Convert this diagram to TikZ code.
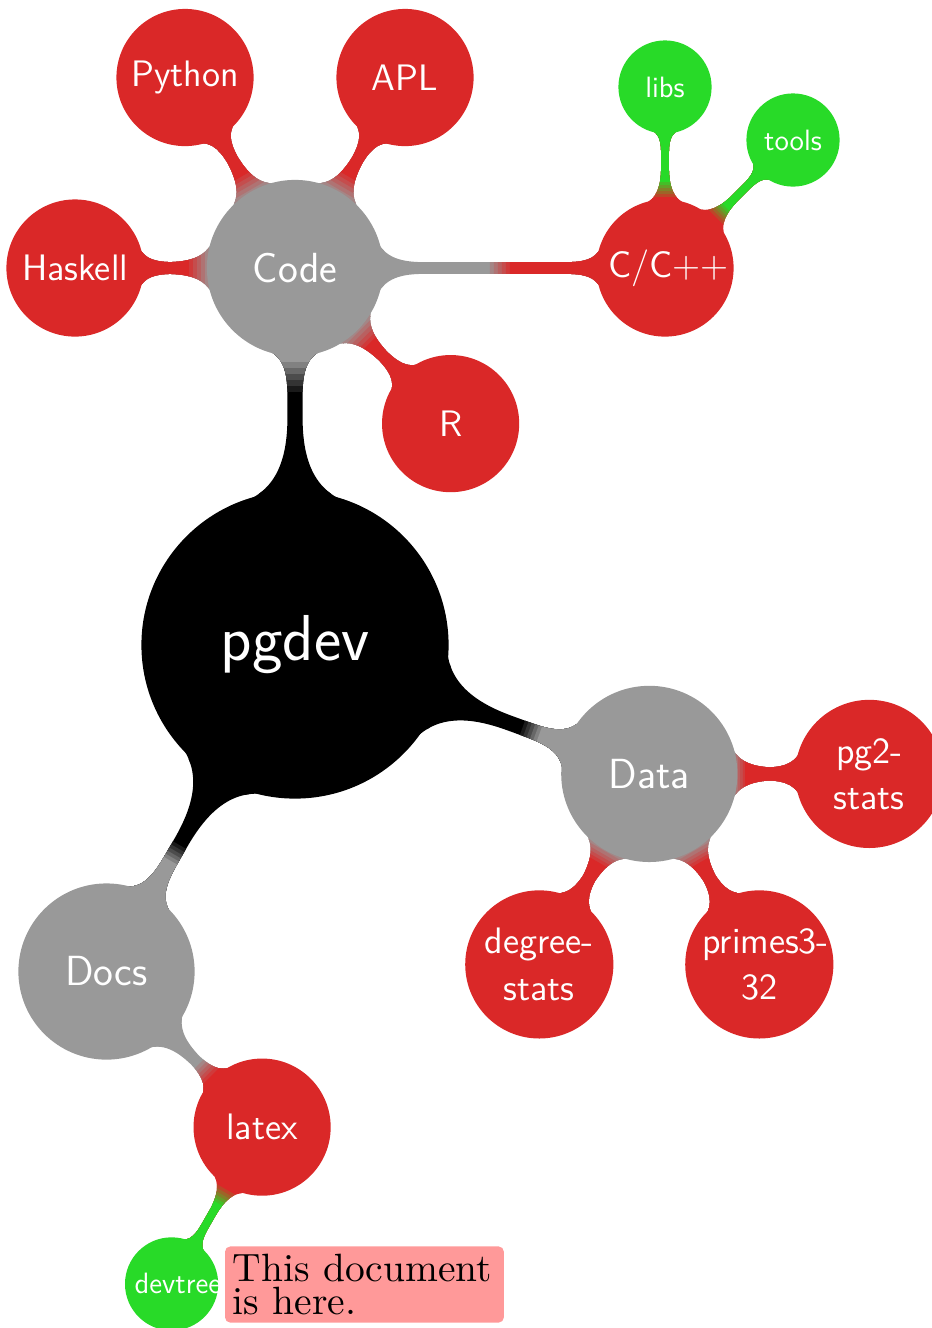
\documentclass[tikz,border=0pt]{standalone}
\usepackage{fontspec}
\newfontfamily\notefont{lmroman10-regular.otf}
\usetikzlibrary{mindmap}
\pgfdeclarelayer{bars}
\pgfsetlayers{bars,main}
\definecolor{cblack}{RGB}{0,0,0}
\definecolor{cgray}{RGB}{153,153,153}
\definecolor{cred}{RGB}{218,40,40}
\definecolor{cgreen}{RGB}{40,218,40}
\definecolor{cpink}{RGB}{255,153,153}
\tikzset{
  lvlroot/.style={concept, concept color=cblack, text=white, inner sep=0pt,
    minimum size=4.032cm, text width=3.18cm, align=center,
    font=\sffamily\fontsize{24.5}{29.4}\selectfont},
  lvlone/.style={concept, concept color=cgray, text=white, inner sep=0pt,
    minimum size=2.295cm, text width=1.99cm, align=center,
    font=\sffamily\fontsize{15.9}{19}\selectfont},
  lvltwo/.style={concept, concept color=cred, text=white, inner sep=0pt,
    minimum size=1.777cm, text width=1.512cm, align=center,
    font=\sffamily\fontsize{13.9}{17.4}\selectfont},
  lvltwobig/.style={lvltwo, minimum size=1.923cm},
  lvlthree/.style={concept, concept color=cgreen, text=white, inner sep=0pt,
    minimum size=1.194cm, text width=0.981cm, align=center,
    font=\sffamily\fontsize{11.1}{13.3}\selectfont},
  notebox/.style={rectangle, fill=cpink, draw=none, rounded corners=2pt,
    text=black, align=left, minimum size=0pt, minimum width=0pt, minimum height=0pt,
    text width=3.488cm, inner xsep=3pt, inner ysep=2.9pt,
    font=\notefont\fontsize{14.9}{12.45}\selectfont},
}
% #1 from node, #2 to node, #3 direction angle, #4 colour at #1, #5 colour at #2,
% #6 distance from #1 where the colour switch starts, #7 length of the switch
\newcommand{\mmbar}[7]{%
  \begin{pgfonlayer}{bars}
    \path (#1) to[circle connection bar switch color=from (#4) to (#4)] (#2);
    \foreach \k in {1,...,6}{%
      \pgfmathtruncatemacro{\mixp}{100-\k*100/6}%
      \colorlet{mm#1#2\k}{#4!\mixp!#5}%
      \begin{scope}
        \clip[shift={(#1)}, rotate=#3] ({#6+(\k-1)*#7/5},-4) rectangle (30,4);
        \path (#1) to[circle connection bar switch color=from (mm#1#2\k) to (mm#1#2\k)] (#2);
      \end{scope}}%
  \end{pgfonlayer}}
\begin{document}
\begin{tikzpicture}[mindmap]
  \useasboundingbox (0,0) rectangle (12.361,-17.613);
  % root and level 1
  \node[lvlroot] (root) at (3.9126,-8.5546) {pgdev};
  \node[lvlone] (code) at (3.9126,-3.5545) {Code};
  \node[lvlone] (data) at (8.6117,-10.2642) {Data};
  \node[lvlone] (docs) at (1.4125,-12.8850) {Docs};
  % level 2
  \node[lvltwo] (haskell) at (0.9947,-3.5545) {Haskell};
  \node[lvltwo] (python) at (2.4537,-1.0279) {Python};
  \node[lvltwo] (apl) at (5.3715,-1.0279) {APL};
  \node[lvltwo] (cpp) at (8.8199,-3.5545) {C/C++};
  \node[lvltwo] (r) at (5.9763,-5.6182) {R};
  \node[lvltwobig] (pgtwo) at (11.5295,-10.2642) {\mbox{pg2-}\\stats};
  \node[lvltwobig] (primes) at (10.0706,-12.7908) {\mbox{primes3-}\\32};
  \node[lvltwobig] (degree) at (7.1527,-12.7908) {\mbox{degree-}\\stats};
  \node[lvltwo] (latex) at (3.4762,-14.9487) {latex};
  % level 3
  \node[lvlthree] (libs) at (8.8199,-1.1539) {libs};
  \node[lvlthree] (tools) at (10.5176,-1.8568) {tools};
  \node[lvlthree] (devtree) at (2.2759,-17.0284) {devtree};
  % annotation
  \node[notebox, anchor=west] (note) at (2.9842,-17.0363) {This document\\is here.};
  % connections
  \mmbar{root}{code}{90}{cblack}{cgray}{3.356}{0.398}
  \mmbar{root}{data}{-20}{cblack}{cgray}{3.210}{0.239}
  \mmbar{root}{docs}{-120}{cblack}{cgray}{3.064}{0.239}
  \mmbar{code}{haskell}{180}{cgray}{cred}{1.141}{0.265}
  \mmbar{code}{python}{120}{cgray}{cred}{1.141}{0.265}
  \mmbar{code}{apl}{60}{cgray}{cred}{1.141}{0.265}
  \mmbar{code}{cpp}{0}{cgray}{cred}{2.586}{0.265}
  \mmbar{code}{r}{-45}{cgray}{cred}{1.141}{0.265}
  \mmbar{cpp}{libs}{90}{cred}{cgreen}{0.955}{0.186}
  \mmbar{cpp}{tools}{45}{cred}{cgreen}{0.955}{0.186}
  \mmbar{data}{pgtwo}{0}{cgray}{cred}{1.114}{0.159}
  \mmbar{data}{primes}{-60}{cgray}{cred}{1.141}{0.212}
  \mmbar{data}{degree}{-120}{cgray}{cred}{1.141}{0.212}
  \mmbar{docs}{latex}{-45}{cgray}{cred}{1.737}{0.225}
  \mmbar{latex}{devtree}{-120}{cred}{cgreen}{0.955}{0.212}
\end{tikzpicture}
\end{document}
